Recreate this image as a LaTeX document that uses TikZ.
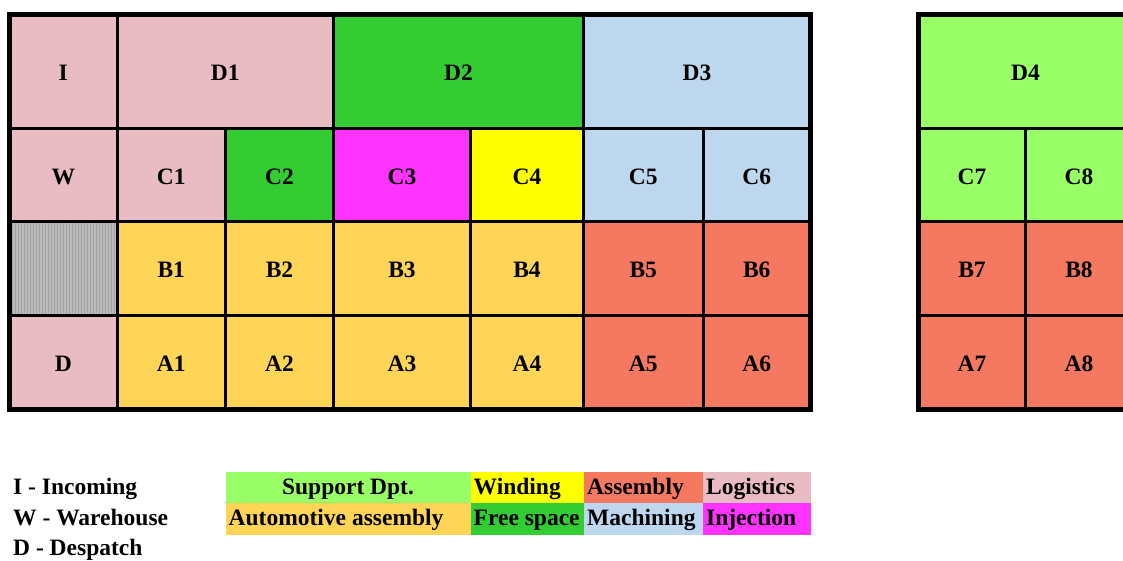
\documentclass[tikz,border=0pt]{standalone}
\usepackage{fontspec}
\setmainfont{Liberation Serif}
\usetikzlibrary{patterns}

% department colours
\definecolor{logistics}{RGB}{233,188,195}
\definecolor{freespace}{RGB}{51,204,51}
\definecolor{machining}{RGB}{189,215,238}
\definecolor{injection}{RGB}{255,51,255}
\definecolor{winding}{RGB}{255,255,0}
\definecolor{automotive}{RGB}{255,213,87}
\definecolor{assembly}{RGB}{244,121,96}
\definecolor{support}{RGB}{153,255,102}
\definecolor{blockedbase}{RGB}{188,188,188}
\definecolor{blockedline}{RGB}{160,160,160}

\tikzset{
  cellbox/.style={draw=black, line width=3pt, inner sep=0pt, outer sep=0pt,
    text height=18.6pt, text depth=0pt,
    font=\fontsize{23.5}{28}\selectfont\bfseries},
  framebox/.style={draw=black, line width=5pt, inner sep=0pt, outer sep=0pt},
  legbox/.style={inner sep=0pt, outer sep=0pt},
  legtext/.style={inner sep=0pt, anchor=base west,
    font=\fontsize{23.5}{28}\selectfont\bfseries},
}

% \gridcell{name}{x1}{y1}{x2}{y2}{style}{label}
\newcommand\gridcell[7]{%
  \pgfmathsetmacro\cellw{#4-#2}\pgfmathsetmacro\cellh{#5-#3}%
  \node[cellbox, #6, minimum width=\cellw pt, minimum height=\cellh pt]
    (#1) at ({(#2+#4)/2},{(#3+#5)/2}) {#7};}
% \legcell{name}{x1}{y1}{x2}{y2}{colour}
\newcommand\legcell[6]{%
  \pgfmathsetmacro\cellw{#4-#2}\pgfmathsetmacro\cellh{#5-#3}%
  \node[legbox, fill=#6, minimum width=\cellw pt, minimum height=\cellh pt]
    (#1) at ({(#2+#4)/2},{(#3+#5)/2}) {};}

\begin{document}
\begin{tikzpicture}[x=1pt, y=-1pt]
\useasboundingbox (0,0) rectangle (1123,560);
\clip (0,0) rectangle (1123,560);

% ---------------- main hall ----------------
% row D
\gridcell{I}{9.5}{14.5}{117}{128.3}{fill=logistics}{I}
\gridcell{D1}{117}{14.5}{333.5}{128.3}{fill=logistics}{D1}
\gridcell{D2}{333.5}{14.5}{583.5}{128.3}{fill=freespace}{D2}
\gridcell{D3}{583.5}{14.5}{810.5}{128.3}{fill=machining}{D3}
% row C
\gridcell{W}{9.5}{128.3}{117}{221.5}{fill=logistics}{W}
\gridcell{C1}{117}{128.3}{225.5}{221.5}{fill=logistics}{C1}
\gridcell{C2}{225.5}{128.3}{333.5}{221.5}{fill=freespace}{C2}
\gridcell{C3}{333.5}{128.3}{470.5}{221.5}{fill=injection}{C3}
\gridcell{C4}{470.5}{128.3}{583.5}{221.5}{fill=winding}{C4}
\gridcell{C5}{583.5}{128.3}{703}{221.5}{fill=machining}{C5}
\gridcell{C6}{703}{128.3}{810.5}{221.5}{fill=machining}{C6}
% row B
\gridcell{X}{9.5}{221.5}{117}{315.5}{preaction={fill=blockedbase}, pattern=vertical lines, pattern color=blockedline}{}
\gridcell{B1}{117}{221.5}{225.5}{315.5}{fill=automotive}{B1}
\gridcell{B2}{225.5}{221.5}{333.5}{315.5}{fill=automotive}{B2}
\gridcell{B3}{333.5}{221.5}{470.5}{315.5}{fill=automotive}{B3}
\gridcell{B4}{470.5}{221.5}{583.5}{315.5}{fill=automotive}{B4}
\gridcell{B5}{583.5}{221.5}{703}{315.5}{fill=assembly}{B5}
\gridcell{B6}{703}{221.5}{810.5}{315.5}{fill=assembly}{B6}
% row A
\gridcell{Dsp}{9.5}{315.5}{117}{409}{fill=logistics}{D}
\gridcell{A1}{117}{315.5}{225.5}{409}{fill=automotive}{A1}
\gridcell{A2}{225.5}{315.5}{333.5}{409}{fill=automotive}{A2}
\gridcell{A3}{333.5}{315.5}{470.5}{409}{fill=automotive}{A3}
\gridcell{A4}{470.5}{315.5}{583.5}{409}{fill=automotive}{A4}
\gridcell{A5}{583.5}{315.5}{703}{409}{fill=assembly}{A5}
\gridcell{A6}{703}{315.5}{810.5}{409}{fill=assembly}{A6}
% outer wall
\node[framebox, minimum width=801pt, minimum height=394.5pt] (hall) at (410,211.75) {};

% ---------------- second hall ----------------
\gridcell{D4}{918.5}{14.5}{1132.5}{128.3}{fill=support}{D4}
\gridcell{C7}{918.5}{128.3}{1025.5}{221.5}{fill=support}{C7}
\gridcell{C8}{1025.5}{128.3}{1132.5}{221.5}{fill=support}{C8}
\gridcell{B7}{918.5}{221.5}{1025.5}{315.5}{fill=assembly}{B7}
\gridcell{B8}{1025.5}{221.5}{1132.5}{315.5}{fill=assembly}{B8}
\gridcell{A7}{918.5}{315.5}{1025.5}{409}{fill=assembly}{A7}
\gridcell{A8}{1025.5}{315.5}{1132.5}{409}{fill=assembly}{A8}
\node[framebox, minimum width=214pt, minimum height=394.5pt] (hall2) at (1025.5,211.75) {};

% ---------------- abbreviations ----------------
\node[legtext] (kI) at (13,494.3) {I - Incoming};
\node[legtext] (kW) at (13,525.5) {W - Warehouse};
\node[legtext] (kD) at (13,555.8) {D - Despatch};

% ---------------- colour key ----------------
\legcell{lSup}{225.5}{472}{470.5}{503}{support}
\legcell{lWin}{470.5}{472}{583.5}{503}{winding}
\legcell{lAsm}{583.5}{472}{703}{503}{assembly}
\legcell{lLog}{703}{472}{810.5}{503}{logistics}
\legcell{lAut}{225.5}{503}{470.5}{534.5}{automotive}
\legcell{lFree}{470.5}{503}{583.5}{534.5}{freespace}
\legcell{lMac}{583.5}{503}{703}{534.5}{machining}
\legcell{lInj}{703}{503}{810.5}{534.5}{injection}

\node[legtext, anchor=base] at (348,494.3) {Support Dpt.};
\node[legtext] at (473.5,494.3) {Winding};
\node[legtext] at (587,494.3) {Assembly};
\node[legtext] at (706,494.3) {Logistics};
\node[legtext] at (228.5,525.5) {Automotive assembly};
\node[legtext] at (473.5,525.5) {Free space};
\node[legtext] at (587,525.5) {Machining};
\node[legtext] at (706,525.5) {Injection};
\end{tikzpicture}
\end{document}
